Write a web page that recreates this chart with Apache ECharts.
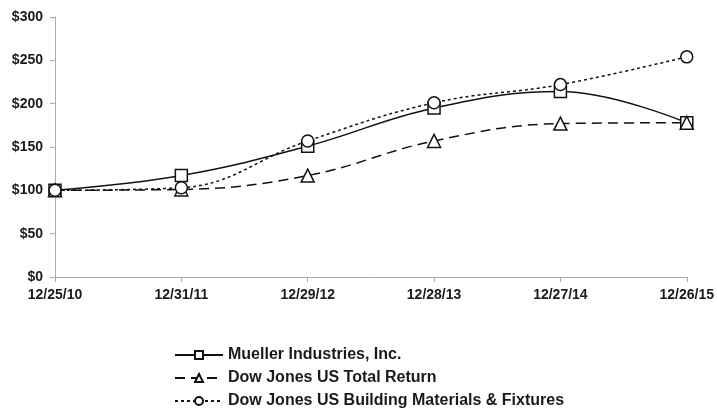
<!DOCTYPE html>
<html>
<head>
<meta charset="utf-8">
<script src="https://cdn.jsdelivr.net/npm/echarts@6/dist/echarts.min.js"></script>
<style>
  html, body { margin: 0; padding: 0; background: #fff; }
  #chart { width: 717px; height: 409px; }
</style>
</head>
<body>
<div id="chart"></div>
<script>
var dates = ['12/25/10', '12/31/11', '12/29/12', '12/28/13', '12/27/14', '12/26/15']
var mueller = [100, 117, 151, 195, 214, 178]
var totalReturn = [100, 101, 117, 157, 177, 178]
var building = [100, 103, 157, 201, 222, 254]

var chart = echarts.init(document.getElementById('chart'), null, { renderer: 'canvas' })

var fontBase = { fontFamily: 'Liberation Sans, Arial, sans-serif', fontWeight: 'bold', color: '#1a1a1a' }

function line(name, data, symbol, type) {
  return {
    name: name,
    type: 'line',
    data: data,
    smooth: 0.4,
    symbol: symbol,
    symbolSize: symbol == 'triangle' ? 13 : 12,
    itemStyle: { color: '#fff', borderColor: '#111', borderWidth: 1.5 },
    lineStyle: { color: '#111', width: 1.5, type: type },
    z: 3
  }
}

var option = {
  animation: false,
  grid: { left: 55, right: 29, top: 17, bottom: 132 },
  xAxis: {
    type: 'category',
    data: dates,
    boundaryGap: false,
    axisLine: { lineStyle: { color: '#aaa' } },
    axisTick: { alignWithLabel: true, length: 5, lineStyle: { color: '#aaa' } },
    axisLabel: Object.assign({ fontSize: 14, margin: 11 }, fontBase)
  },
  yAxis: {
    type: 'value',
    min: 0, max: 300, interval: 50,
    splitLine: { show: false },
    axisLine: { show: true, lineStyle: { color: '#aaa' } },
    axisTick: { show: true, length: 5, lineStyle: { color: '#aaa' } },
    axisLabel: Object.assign({ fontSize: 14, margin: 12, formatter: '${value}' }, fontBase)
  },
  legend: {
    orient: 'vertical',
    left: 174,
    top: 347,
    height: 70,
    padding: 0,
    itemGap: 7,
    itemWidth: 48,
    itemHeight: 10,
    textStyle: Object.assign({ fontSize: 16 }, fontBase),
    data: ['Mueller Industries, Inc.', 'Dow Jones US Total Return', 'Dow Jones US Building Materials & Fixtures']
  },
  series: [
    line('Mueller Industries, Inc.', mueller, 'rect', 'solid'),
    line('Dow Jones US Total Return', totalReturn, 'triangle', [10, 6]),
    line('Dow Jones US Building Materials & Fixtures', building, 'circle', [3, 3])
  ]
}

chart.setOption(option)
</script>
</body>
</html>
